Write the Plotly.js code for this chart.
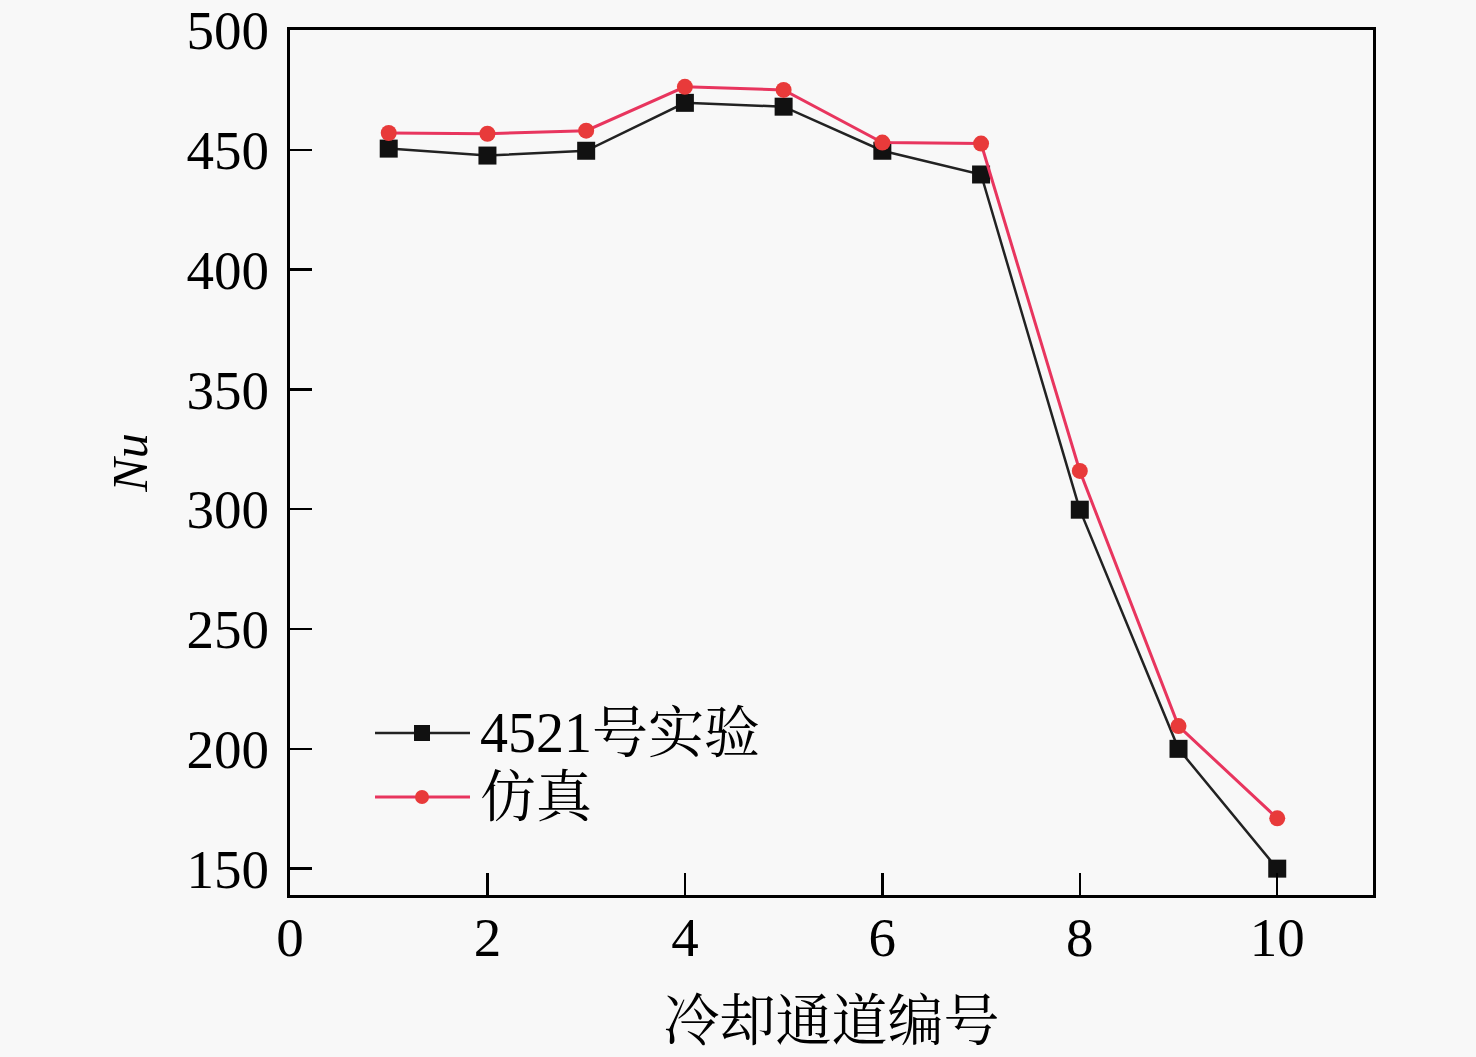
<!DOCTYPE html>
<html>
<head>
<meta charset="utf-8">
<script src="https://cdn.plot.ly/plotly-3.0.1.min.js"></script>
<style>html,body{margin:0;padding:0;background:#f8f8f8;}#chart{width:1476px;height:1057px;}</style>
</head>
<body>
<div id="chart"></div>
<script>
// channel numbers
const channels = [1, 2, 3, 4, 5, 6, 7, 8, 9, 10];
// experiment 4521
const nuExperiment = [450.5, 447.6, 449.6, 469.6, 468, 449.6, 439.7, 299.8, 200, 150];
// simulation
const nuSimulation = [457, 456.7, 458, 476.3, 475, 453, 452.6, 316, 209.5, 171];
const seriesNames = ['4521号实验', '仿真'];
const xTicks = [0, 2, 4, 6, 8, 10];
const yTicks = [150, 200, 250, 300, 350, 400, 450, 500];

const serif = 'Liberation Serif, Times New Roman, Noto Serif CJK SC, Noto Sans CJK SC, serif';
const black = '#111111';
const redLine = '#e8355e';
const redMarker = '#e83a3a';

const traces = [
  {x: channels, y: nuExperiment, name: seriesNames[0], type: 'scatter', mode: 'lines+markers',
   line: {color: '#222222', width: 2.5}, marker: {symbol: 'square', size: 18, color: black}},
  {x: channels, y: nuSimulation, name: seriesNames[1], type: 'scatter', mode: 'lines+markers',
   line: {color: redLine, width: 3}, marker: {symbol: 'circle', size: 16, color: redMarker}}
];

// legend drawn as shapes + annotations (paper coords)
const legX0 = 0.0785, legX1 = 0.1662, legMk = 0.1219, legTx = 0.1735;
const legY = [0.1873, 0.1133];

const layout = {
  width: 1476, height: 1057,
  paper_bgcolor: '#f8f8f8', plot_bgcolor: '#f8f8f8',
  margin: {l: 290, r: 103, t: 30, b: 162},
  showlegend: false,
  font: {family: serif, color: '#000'},
  xaxis: {
    range: [0, 10.97], tickvals: xTicks, ticktext: xTicks.map(String),
    ticks: 'inside', ticklen: 22, tickwidth: 2.5, tickcolor: '#000',
    showline: true, linewidth: 3, linecolor: '#000', mirror: true,
    showgrid: false, zeroline: false, ticklabelstandoff: -8,
    tickfont: {family: serif, size: 55, color: '#000'},
    title: {text: '冷却通道编号', font: {family: serif, size: 56, color: '#000'}, standoff: 34}
  },
  yaxis: {
    range: [139, 500], tickvals: yTicks, ticktext: yTicks.map(String),
    ticks: 'inside', ticklen: 22, tickwidth: 2.5, tickcolor: '#000',
    showline: true, linewidth: 3, linecolor: '#000', mirror: true,
    showgrid: false, zeroline: false, ticklabelstandoff: 7,
    tickfont: {family: serif, size: 55, color: '#000'},
    title: {text: '<i>Nu</i>', font: {family: serif, size: 50, color: '#000'}, standoff: 24}
  },
  shapes: [
    {type: 'line', xref: 'paper', yref: 'paper', x0: legX0, x1: legX1, y0: legY[0], y1: legY[0], line: {color: '#222222', width: 2.5}},
    {type: 'rect', xref: 'paper', yref: 'paper', xsizemode: 'pixel', ysizemode: 'pixel',
     xanchor: legMk, yanchor: legY[0], x0: -8, x1: 8, y0: -8, y1: 8, fillcolor: black, line: {width: 0}},
    {type: 'line', xref: 'paper', yref: 'paper', x0: legX0, x1: legX1, y0: legY[1], y1: legY[1], line: {color: redLine, width: 3}},
    {type: 'circle', xref: 'paper', yref: 'paper', xsizemode: 'pixel', ysizemode: 'pixel',
     xanchor: legMk, yanchor: legY[1], x0: -7, x1: 7, y0: -7, y1: 7, fillcolor: redMarker, line: {width: 0}}
  ],
  annotations: seriesNames.map((n, i) => ({
    xref: 'paper', yref: 'paper', x: legTx, y: legY[i], xanchor: 'left', yanchor: 'middle',
    text: n, showarrow: false, font: {family: serif, size: 56, color: '#000'}
  }))
};

Plotly.newPlot('chart', traces, layout, {displayModeBar: false, staticPlot: true});
</script>
</body>
</html>
